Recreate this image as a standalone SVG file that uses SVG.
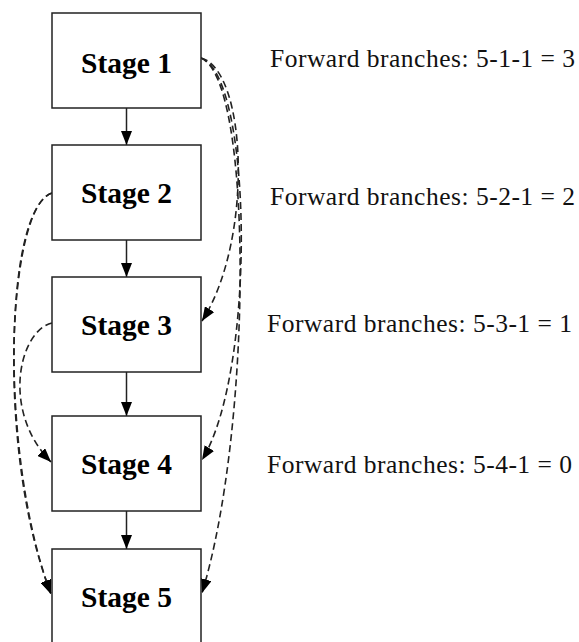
<svg xmlns="http://www.w3.org/2000/svg" width="579" height="642" viewBox="0 0 579 642">
<style>
.box{fill:#fff;stroke:#222;stroke-width:1.5}
.stage{font-family:"Liberation Serif","Times New Roman",serif;font-weight:bold;font-size:29.5px;text-anchor:middle;fill:#000}
.lbl{font-family:"Liberation Serif","Times New Roman",serif;font-size:25.5px;fill:#111}
.solid{fill:none;stroke:#222;stroke-width:1.5}
.dash{fill:none;stroke:#222;stroke-width:1.6;stroke-dasharray:7 4}
</style>
<defs>
<marker id="ah" viewBox="0 0 14 11" refX="14" refY="5.5" markerWidth="14" markerHeight="11" markerUnits="userSpaceOnUse" orient="auto">
<path d="M0,0 L14,5.5 L0,11 z" fill="#000"/>
</marker>
</defs>
<rect width="579" height="642" fill="#fff"/>
<g id="connectors">
<path class="solid" d="M126.5,108 L126.5,145" marker-end="url(#ah)"/>
<path class="solid" d="M126.5,240 L126.5,277" marker-end="url(#ah)"/>
<path class="solid" d="M126.5,372 L126.5,416" marker-end="url(#ah)"/>
<path class="solid" d="M126.5,511 L126.5,549" marker-end="url(#ah)"/>
<path class="dash" d="M201,58 C247,70 254,240 202,321" marker-end="url(#ah)"/>
<path class="dash" d="M201,58 C252,75 257,370 202,460" marker-end="url(#ah)"/>
<path class="dash" d="M201,58 C254,80 252,430 202,593" marker-end="url(#ah)"/>
<path class="dash" d="M52,193 C8,205 -5,450 51,594" marker-end="url(#ah)"/>
<path class="dash" d="M52,193 C3,210 0,460 51,594" marker-end="url(#ah)"/>
<path class="dash" d="M52,323 C20,330 0,410 51,462" marker-end="url(#ah)"/>
</g>
<g id="stage1"><rect class="box" x="52" y="13" width="149" height="95"/><text class="stage" x="126.5" y="72.5">Stage 1</text></g>
<g id="stage2"><rect class="box" x="52" y="145" width="149" height="95"/><text class="stage" x="126.5" y="203">Stage 2</text></g>
<g id="stage3"><rect class="box" x="52" y="277" width="149" height="95"/><text class="stage" x="126.5" y="335">Stage 3</text></g>
<g id="stage4"><rect class="box" x="52" y="416" width="149" height="95"/><text class="stage" x="126.5" y="474">Stage 4</text></g>
<g id="stage5"><rect class="box" x="52" y="549" width="149" height="95"/><text class="stage" x="126.5" y="607">Stage 5</text></g>
<g id="labels">
<text class="lbl" x="270" y="67" textLength="305" lengthAdjust="spacing">Forward branches: 5-1-1 = 3</text>
<text class="lbl" x="270" y="205" textLength="305" lengthAdjust="spacing">Forward branches: 5-2-1 = 2</text>
<text class="lbl" x="267" y="332" textLength="305" lengthAdjust="spacing">Forward branches: 5-3-1 = 1</text>
<text class="lbl" x="267" y="473" textLength="305" lengthAdjust="spacing">Forward branches: 5-4-1 = 0</text>
</g>
</svg>
